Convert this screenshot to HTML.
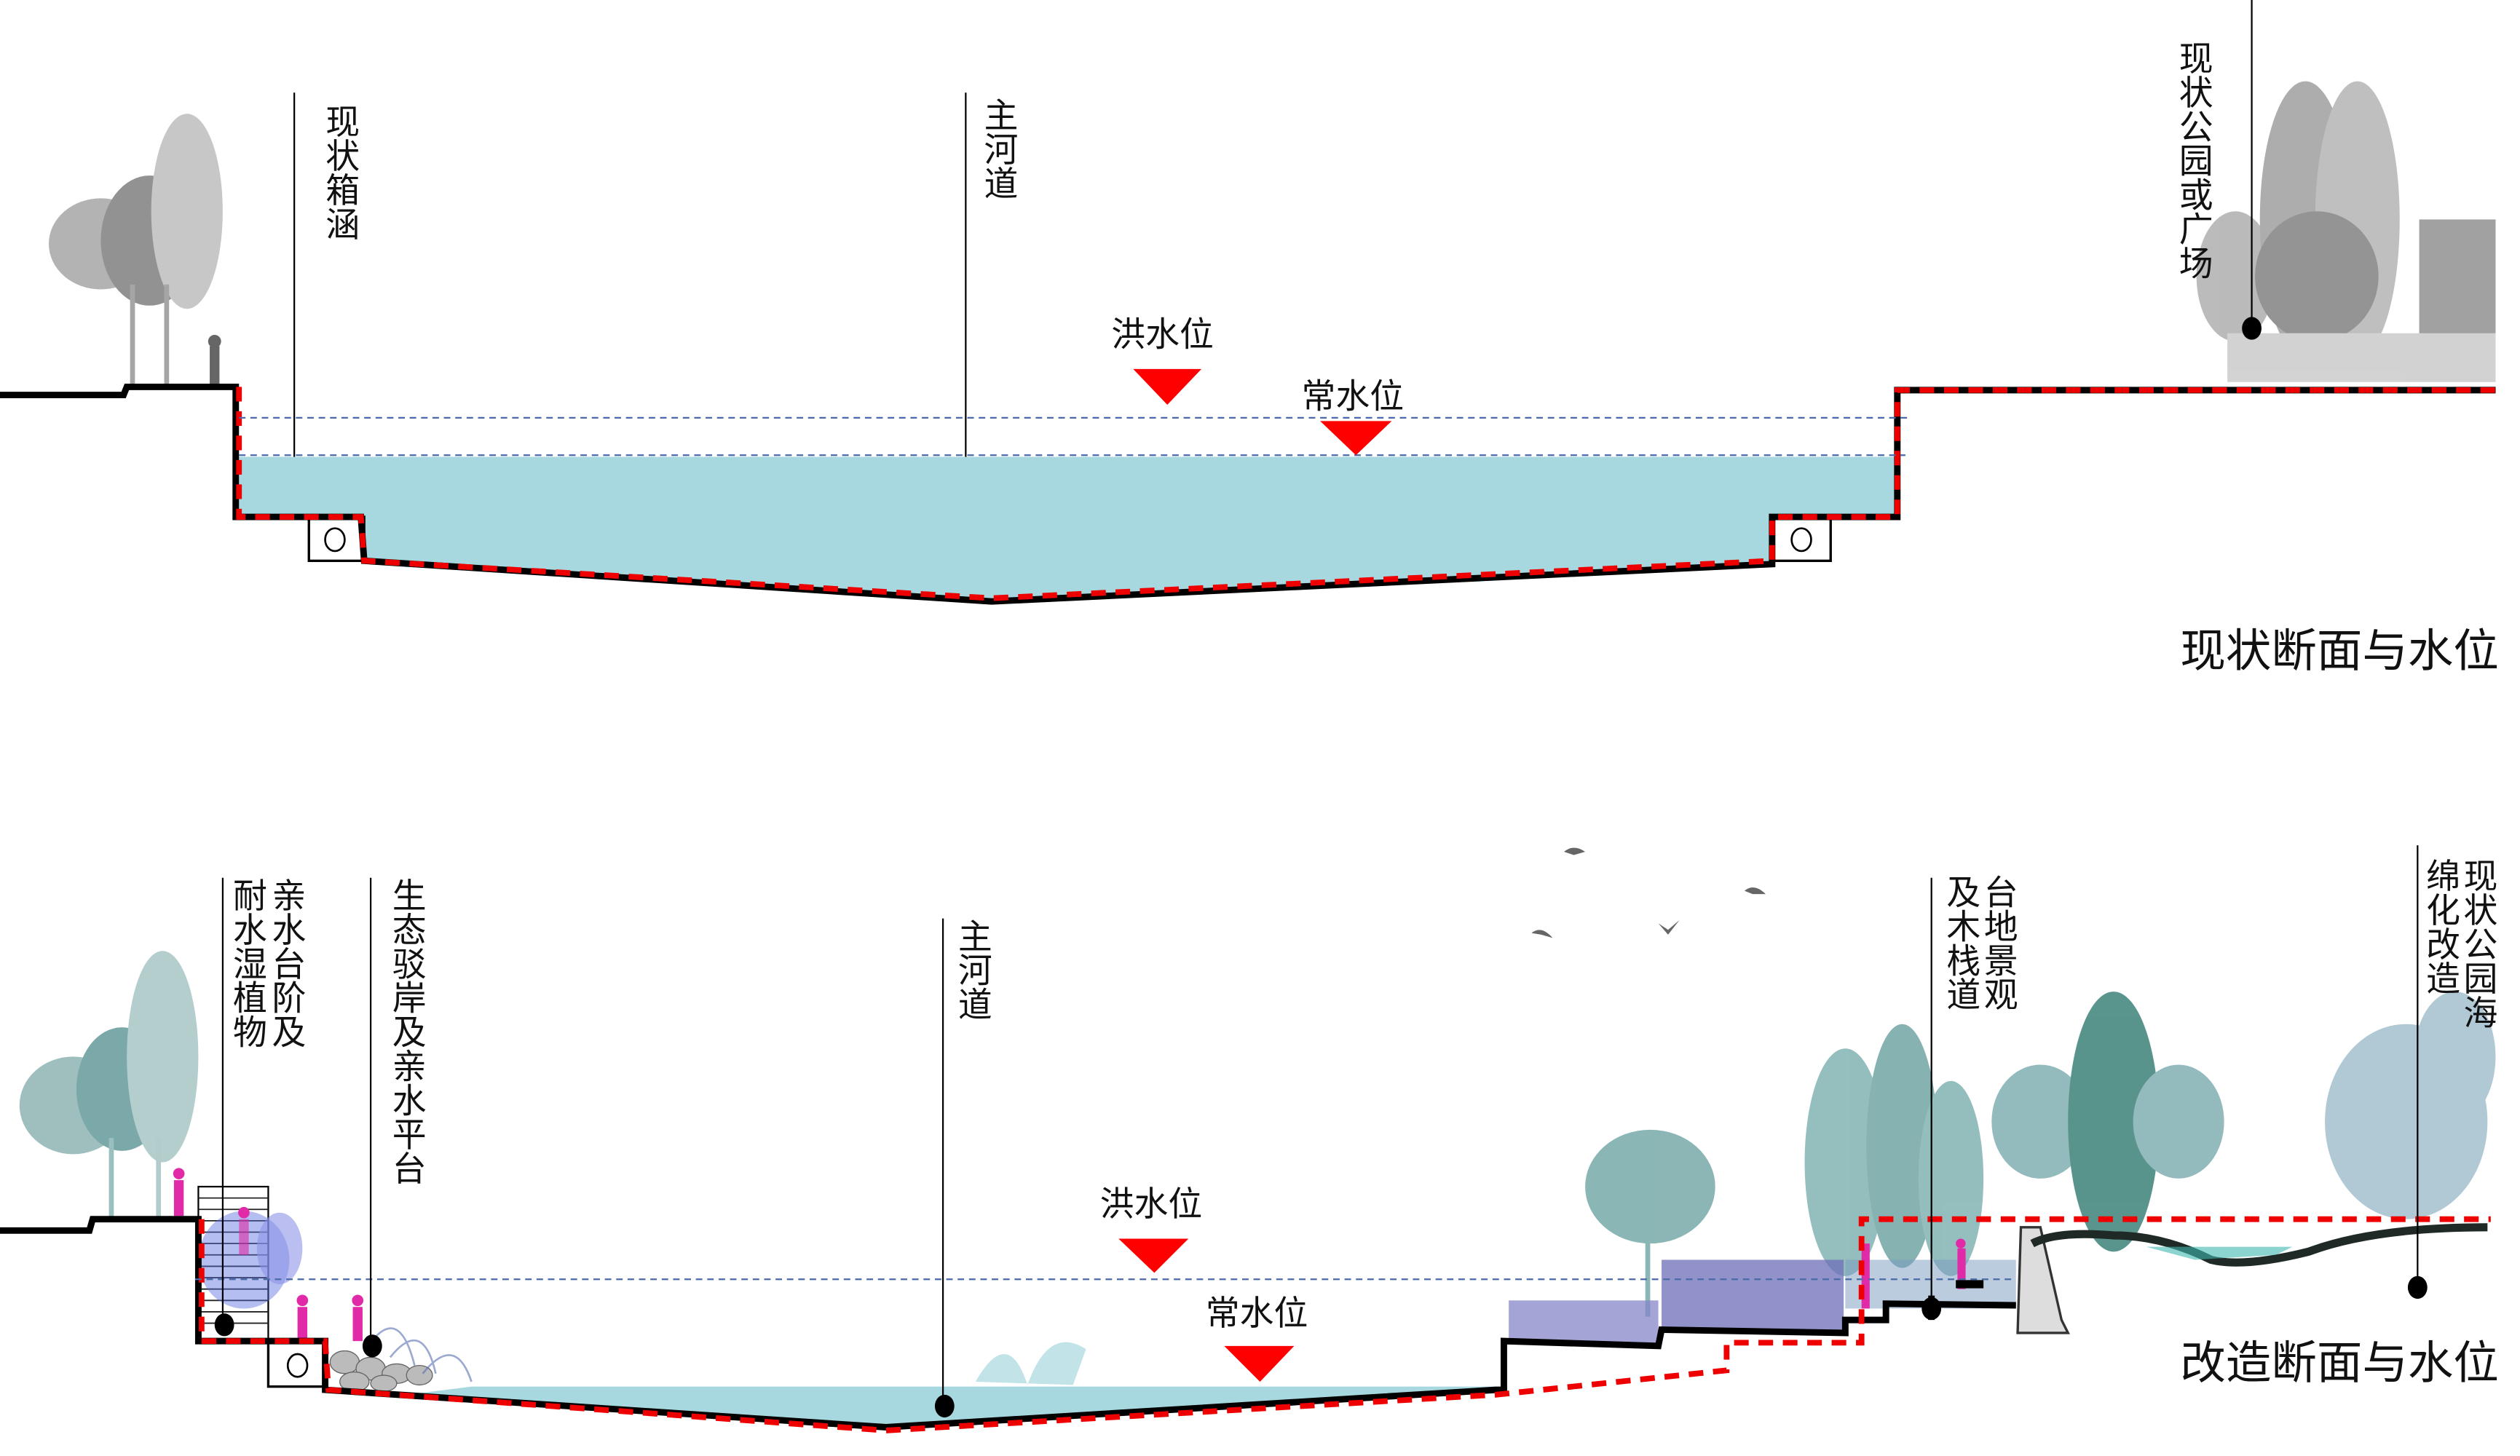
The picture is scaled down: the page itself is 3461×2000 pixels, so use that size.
<!DOCTYPE html>
<html><head><meta charset="utf-8"><style>
html,body{margin:0;padding:0;background:#fff;}
svg{display:block;}
.v{font-family:"Liberation Sans","Noto Sans CJK SC",sans-serif;font-size:21px;fill:#111;writing-mode:vertical-rl;}
.t{font-family:"Liberation Sans","Noto Sans CJK SC",sans-serif;fill:#111;}
</style></head><body>
<svg width="3461" height="2000" viewBox="0 0 1550 895.7" preserveAspectRatio="none" xmlns="http://www.w3.org/2000/svg">
<!-- ========== TOP SECTION ========== -->
<!-- trees left (grey) -->
<g opacity="0.75">
<ellipse cx="62" cy="150" rx="32" ry="28" fill="#9a9a9a"/>
<ellipse cx="92" cy="148" rx="30" ry="40" fill="#6e6e6e"/>
<ellipse cx="115" cy="130" rx="22" ry="60" fill="#b5b5b5"/>
<rect x="80" y="175" width="3" height="62" fill="#888"/><rect x="101" y="175" width="3" height="62" fill="#888"/>
</g>
<rect x="129" y="213" width="6" height="25" fill="#666"/><circle cx="132" cy="210" r="4" fill="#666"/>
<!-- trees right (grey) -->
<g opacity="0.8">
<ellipse cx="1375" cy="170" rx="24" ry="40" fill="#aaa"/>
<ellipse cx="1418" cy="135" rx="28" ry="85" fill="#999"/>
<ellipse cx="1450" cy="135" rx="26" ry="85" fill="#b0b0b0"/>
<ellipse cx="1425" cy="170" rx="38" ry="40" fill="#7a7a7a"/>
<rect x="1488" y="135" width="47" height="95" fill="#8a8a8a"/>
<rect x="1370" y="205" width="165" height="30" fill="#c8c8c8"/>
</g>
<!-- water -->
<path d="M147 281 L1165 281 L1165 318 L1090 318 L1090 347 L610 370 L224 345 L222 318 L147 318 Z" fill="#a8d8df"/>
<!-- culverts -->
<rect x="190" y="318" width="34" height="27" fill="#fff" stroke="#000" stroke-width="1.5"/>
<ellipse cx="206" cy="332" rx="6" ry="7" fill="none" stroke="#000" stroke-width="1.2"/>
<rect x="1090" y="318" width="36" height="27" fill="#fff" stroke="#000" stroke-width="1.5"/>
<ellipse cx="1108" cy="332" rx="6" ry="7" fill="none" stroke="#000" stroke-width="1.2"/>
<!-- profile -->
<path d="M0 243 L76 243 L78 238 L145 238 L145 318 L222 318 L224 345 L610 370 L1090 347 L1090 318 L1167 318 L1167 240 L1535 240" fill="none" stroke="#000" stroke-width="4"/>
<path d="M147 238 L147 318 L222 318 L224 345 L610 368 L1090 345 L1090 318 L1167 318 L1167 240 L1535 240" fill="none" stroke="#e00" stroke-width="3.5" stroke-dasharray="9 6"/>
<!-- water lines -->
<line x1="147" y1="257" x2="1175" y2="257" stroke="#4a6aa8" stroke-width="1" stroke-dasharray="4 3"/>
<line x1="147" y1="280" x2="1172" y2="280" stroke="#4a6aa8" stroke-width="1" stroke-dasharray="4 3"/>
<!-- labels -->
<line x1="181" y1="57" x2="181" y2="281" stroke="#000" stroke-width="1"/>
<text class="v" x="209" y="64">现状箱涵</text>
<line x1="594" y1="57" x2="594" y2="281" stroke="#000" stroke-width="1"/>
<text class="v" x="614" y="60">主河道</text>
<text class="t" x="715" y="213" font-size="21" text-anchor="middle">洪水位</text>
<polygon points="697,227 739,227 718,249" fill="#f00"/>
<text class="t" x="832" y="251" font-size="21" text-anchor="middle">常水位</text>
<polygon points="812,259 856,259 834,280" fill="#f00"/>
<line x1="1385" y1="0" x2="1385" y2="200" stroke="#000" stroke-width="1"/>
<ellipse cx="1385" cy="202" rx="6" ry="7" fill="#000"/>
<text class="v" x="1349" y="25">现状公园或广场</text>
<text class="t" x="1537" y="410" font-size="28" text-anchor="end">现状断面与水位</text>

<!-- ========== BOTTOM SECTION ========== -->
<!-- left trees (teal) -->
<g opacity="0.75">
<ellipse cx="45" cy="680" rx="33" ry="30" fill="#7fa9a9"/>
<ellipse cx="75" cy="670" rx="28" ry="38" fill="#4f8b8b"/>
<ellipse cx="100" cy="650" rx="22" ry="65" fill="#9bbdbd"/>
<rect x="67" y="700" width="3" height="50" fill="#7aa"/><rect x="96" y="700" width="3" height="50" fill="#9bb"/>
</g>
<!-- stair box -->
<rect x="122" y="730" width="43" height="95" fill="#fff" stroke="#000" stroke-width="1"/>
<g stroke="#222" stroke-width="0.8">
<line x1="122" y1="737" x2="165" y2="737"/><line x1="122" y1="744" x2="165" y2="744"/><line x1="122" y1="751" x2="165" y2="751"/><line x1="122" y1="758" x2="165" y2="758"/><line x1="122" y1="765" x2="165" y2="765"/><line x1="122" y1="772" x2="165" y2="772"/><line x1="122" y1="779" x2="165" y2="779"/><line x1="122" y1="786" x2="165" y2="786"/><line x1="122" y1="793" x2="165" y2="793"/><line x1="122" y1="800" x2="165" y2="800"/><line x1="122" y1="807" x2="165" y2="807"/><line x1="122" y1="814" x2="165" y2="814"/>
</g>
<ellipse cx="150" cy="775" rx="28" ry="30" fill="#5a6ee0" opacity="0.45"/>
<ellipse cx="172" cy="768" rx="14" ry="22" fill="#8c92e8" opacity="0.6"/>
<!-- people -->
<g fill="#e02aa8">
<rect x="107" y="726" width="6" height="22"/><circle cx="110" cy="722" r="3.5"/>
<rect x="147" y="750" width="6" height="22" opacity="0.6"/><circle cx="150" cy="746" r="3.5"/>
<rect x="183" y="804" width="6" height="21"/><circle cx="186" cy="800" r="3.5"/>
<rect x="217" y="804" width="6" height="21"/><circle cx="220" cy="800" r="3.5"/>
</g>
<!-- rocks and grass -->
<g fill="#bbb" stroke="#666" stroke-width="0.6">
<ellipse cx="212" cy="838" rx="9" ry="7"/><ellipse cx="228" cy="842" rx="9" ry="7"/><ellipse cx="244" cy="845" rx="9" ry="6"/><ellipse cx="258" cy="846" rx="8" ry="6"/><ellipse cx="218" cy="850" rx="9" ry="6"/><ellipse cx="236" cy="851" rx="8" ry="5"/>
</g>
<path d="M225 830 Q245 800 255 840 M240 835 Q260 810 268 845 M260 845 Q280 820 290 850" stroke="#5a70b0" stroke-width="1.2" fill="none" opacity="0.6"/>
<!-- water -->
<path d="M290 853 L920 853 L920 855 L545 878 L250 858 Z" fill="#a8d8df"/>
<path d="M600 850 Q620 815 632 852 Q645 815 668 830 L660 852 Z" fill="#a8d8df" opacity="0.7"/>
<!-- culvert -->
<rect x="165" y="825" width="35" height="28" fill="#fff" stroke="#000" stroke-width="1.5"/>
<ellipse cx="183" cy="840" rx="6" ry="7" fill="none" stroke="#000" stroke-width="1.2"/>
<!-- right vegetation -->
<g opacity="0.8">
<ellipse cx="1015" cy="730" rx="40" ry="35" fill="#6fa4a4"/>
<rect x="1012" y="740" width="3" height="70" fill="#6fa4a4"/>
<ellipse cx="1135" cy="715" rx="25" ry="70" fill="#7aaeae"/>
<ellipse cx="1170" cy="705" rx="22" ry="75" fill="#6aa0a0"/>
<ellipse cx="1200" cy="725" rx="20" ry="60" fill="#7aaeae"/>
<ellipse cx="1255" cy="690" rx="30" ry="35" fill="#79a9ac"/>
<ellipse cx="1300" cy="690" rx="28" ry="80" fill="#2f7a70"/>
<ellipse cx="1340" cy="690" rx="28" ry="35" fill="#79a9ac"/>
<ellipse cx="1480" cy="690" rx="50" ry="60" fill="#9dbccb"/>
<ellipse cx="1510" cy="650" rx="25" ry="40" fill="#9dbccb"/>
</g>
<rect x="928" y="800" width="92" height="26" fill="#8686c8" opacity="0.75"/>
<rect x="1022" y="775" width="112" height="44" fill="#6e6eb8" opacity="0.75"/>
<rect x="1135" y="775" width="105" height="30" fill="#7a9ac0" opacity="0.5"/>
<rect x="1145" y="765" width="5" height="40" fill="#e02aa8"/>
<rect x="1204" y="768" width="5" height="25" fill="#e02aa8"/><circle cx="1206" cy="765" r="3" fill="#e02aa8"/>
<!-- stone wall -->
<path d="M1243 755 L1255 755 L1268 812 L1272 820 L1241 820 Z" fill="#ddd" stroke="#333" stroke-width="1.5"/>
<!-- right ground wave -->
<path d="M1250 765 Q1265 757 1300 760 Q1330 760 1360 775 Q1380 780 1420 770 Q1460 755 1530 755" fill="none" stroke="#1f2a26" stroke-width="5"/>
<path d="M1320 767 L1410 767 L1400 772 L1350 775 Z" fill="#3fb7b0" opacity="0.6"/>
<!-- profile -->
<path d="M0 757 L55 757 L57 750 L122 750 L122 825 L200 825 L200 855 L545 878 L920 855 L925 855 L925 825 L1020 828 L1022 818 L1135 820 L1135 812 L1160 812 L1160 802 L1240 803" fill="none" stroke="#000" stroke-width="4"/>
<path d="M1188 797 L1188 812" stroke="#000" stroke-width="4"/>
<path d="M1203 790 L1220 790" stroke="#000" stroke-width="5"/>
<!-- red dashed original profile -->
<path d="M124 750 L124 825 L200 825 L202 855 L545 880 L920 858 L1062 843 L1062 826 L1145 826 L1145 750 L1532 750" fill="none" stroke="#e00" stroke-width="3.5" stroke-dasharray="9 6"/>
<!-- water line -->
<line x1="120" y1="787" x2="1240" y2="787" stroke="#4a6aa8" stroke-width="1" stroke-dasharray="4 3"/>
<!-- labels -->
<line x1="137" y1="540" x2="137" y2="815" stroke="#000" stroke-width="1"/>
<ellipse cx="138" cy="815" rx="6" ry="7" fill="#000"/>
<text class="v" x="176" y="540">亲水台阶及</text>
<text class="v" x="152" y="540">耐水湿植物</text>
<line x1="228" y1="540" x2="228" y2="828" stroke="#000" stroke-width="1"/>
<ellipse cx="229" cy="828" rx="6" ry="7" fill="#000"/>
<text class="v" x="250" y="540">生态驳岸及亲水平台</text>
<line x1="580" y1="565" x2="580" y2="865" stroke="#000" stroke-width="1"/>
<ellipse cx="581" cy="865" rx="6" ry="7" fill="#000"/>
<text class="v" x="598" y="565">主河道</text>
<text class="t" x="708" y="748" font-size="21" text-anchor="middle">洪水位</text>
<polygon points="688,762 731,762 710,783" fill="#f00"/>
<text class="t" x="773" y="815" font-size="21" text-anchor="middle">常水位</text>
<polygon points="753,828 796,828 775,850" fill="#f00"/>
<line x1="1188" y1="540" x2="1188" y2="805" stroke="#000" stroke-width="1"/>
<ellipse cx="1188" cy="805" rx="6" ry="7" fill="#000"/>
<text class="v" x="1229" y="538">台地景观</text>
<text class="v" x="1206" y="538">及木栈道</text>
<line x1="1487" y1="520" x2="1487" y2="792" stroke="#000" stroke-width="1"/>
<ellipse cx="1487" cy="792" rx="6" ry="7" fill="#000"/>
<text class="v" x="1524" y="528">现状公园海</text>
<text class="v" x="1501" y="528">绵化改造</text>
<!-- birds -->
<g fill="#666">
<path d="M962 524 Q968 519 975 524 L968 526 Z"/>
<path d="M1073 548 Q1079 543 1086 550 L1078 550 Z"/>
<path d="M942 574 Q948 569 955 577 L948 575 Z"/>
<path d="M1020 568 L1026 575 L1033 566 L1026 572 Z"/>
</g>
<text class="t" x="1537" y="848" font-size="28" text-anchor="end">改造断面与水位</text>
</svg>
</body></html>
